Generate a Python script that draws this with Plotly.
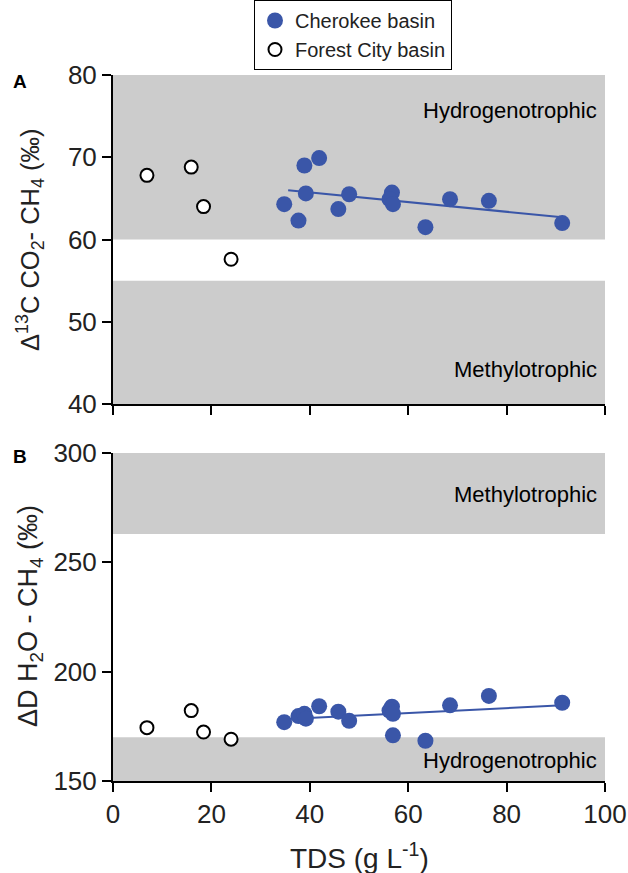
import plotly.graph_objects as go

# ---------------- data ----------------
# Panel A: Δ13C CO2 - CH4 (‰)
cherokee_tds_a = [34.8, 37.7, 38.9, 39.2, 41.9, 45.8, 48.0, 56.7, 56.2, 56.9, 63.5, 68.5, 76.4, 91.3]
cherokee_d13c = [64.3, 62.3, 69.0, 65.6, 69.9, 63.7, 65.5, 65.7, 64.9, 64.3, 61.5, 64.9, 64.7, 62.0]
forest_tds = [6.9, 15.9, 18.4, 24.0]
forest_d13c = [67.8, 68.8, 64.0, 57.6]
trend_a_tds = [35.6, 91.3]
trend_a_val = [66.0, 62.7]

# Panel B: ΔD H2O - CH4 (‰)
cherokee_tds_b = [34.8, 37.7, 38.9, 39.2, 41.9, 45.8, 48.0, 56.7, 56.2, 56.9, 56.9, 63.5, 68.5, 76.4, 91.3]
cherokee_dD = [176.9, 179.7, 180.7, 178.5, 184.2, 181.7, 177.5, 184.0, 182.2, 180.7, 170.9, 168.4, 184.6, 188.9, 185.8]
forest_dD = [174.4, 182.2, 172.4, 169.1]
trend_b_tds = [35.6, 91.3]
trend_b_val = [178.3, 184.6]

# Zones
zone_a = {"Hydrogenotrophic": (60, 80), "Methylotrophic": (40, 55)}
zone_b = {"Methylotrophic": (263, 300), "Hydrogenotrophic": (150, 170)}

x_ticks = [0, 20, 40, 60, 80, 100]
ya_ticks = [40, 50, 60, 70, 80]
yb_ticks = [150, 200, 250, 300]

BLUE = "#3A56A8"
BAND = "#cccccc"
FONT = "Liberation Sans, Arial, sans-serif"
TXT = "#222222"

W, H = 628, 873
L, R, T, B = 113, W - 605, 75, H - 781
PW, PH = W - L - R, H - T - B


def px_x(p):
    return (p - L) / PW


def px_y(p):
    return 1 - (p - T) / PH


fig = go.Figure()

# trend lines
fig.add_trace(go.Scatter(x=trend_a_tds, y=trend_a_val, mode="lines",
                         line=dict(color=BLUE, width=2), showlegend=False,
                         xaxis="x", yaxis="y"))
fig.add_trace(go.Scatter(x=trend_b_tds, y=trend_b_val, mode="lines",
                         line=dict(color=BLUE, width=2), showlegend=False,
                         xaxis="x2", yaxis="y2"))

filled = dict(color=BLUE, size=16, line=dict(width=0))
opened = dict(color="white", size=13, line=dict(color="black", width=2))

fig.add_trace(go.Scatter(x=cherokee_tds_a, y=cherokee_d13c, mode="markers",
                         marker=filled, name="Cherokee basin", xaxis="x", yaxis="y"))
fig.add_trace(go.Scatter(x=forest_tds, y=forest_d13c, mode="markers",
                         marker=opened, name="Forest City basin", xaxis="x", yaxis="y"))
fig.add_trace(go.Scatter(x=cherokee_tds_b, y=cherokee_dD, mode="markers",
                         marker=filled, name="Cherokee basin", showlegend=False,
                         xaxis="x2", yaxis="y2"))
fig.add_trace(go.Scatter(x=forest_tds, y=forest_dD, mode="markers",
                         marker=opened, name="Forest City basin", showlegend=False,
                         xaxis="x2", yaxis="y2"))

# bands + labels
for name, (y0, y1) in zone_a.items():
    fig.add_shape(type="rect", xref="x", yref="y", x0=x_ticks[0], x1=x_ticks[-1],
                  y0=y0, y1=y1, fillcolor=BAND, line=dict(width=0), layer="below")
label_pos_a = {"Hydrogenotrophic": 75.7, "Methylotrophic": 44.2}
for name, yv in label_pos_a.items():
    fig.add_annotation(x=98.8, y=yv, xref="x", yref="y", text=name, showarrow=False,
                       xanchor="right", yanchor="middle",
                       font=dict(size=22, color="black", family=FONT))

for name, (y0, y1) in zone_b.items():
    fig.add_shape(type="rect", xref="x2", yref="y2", x0=x_ticks[0], x1=x_ticks[-1],
                  y0=y0, y1=y1, fillcolor=BAND, line=dict(width=0), layer="below")
label_pos_b = {"Methylotrophic": 281, "Hydrogenotrophic": 159.5}
for name, yv in label_pos_b.items():
    fig.add_annotation(x=98.8, y=yv, xref="x2", yref="y2", text=name, showarrow=False,
                       xanchor="right", yanchor="middle",
                       font=dict(size=22, color="black", family=FONT))

# panel letters
fig.add_annotation(x=px_x(11), y=px_y(81), xref="paper", yref="paper", text="<b>A</b>",
                   showarrow=False, xanchor="left", yanchor="middle",
                   font=dict(size=19, color="black", family=FONT))
fig.add_annotation(x=px_x(11), y=px_y(456), xref="paper", yref="paper", text="<b>B</b>",
                   showarrow=False, xanchor="left", yanchor="middle",
                   font=dict(size=19, color="black", family=FONT))

# axis titles
fig.add_annotation(x=px_x(30), y=px_y(240), xref="paper", yref="paper",
                   text="Δ<sup>13</sup>C CO<sub>2</sub>- CH<sub>4</sub> (‰)", textangle=-90,
                   showarrow=False, xanchor="center", yanchor="middle",
                   font=dict(size=25.5, color=TXT, family=FONT))
fig.add_annotation(x=px_x(30), y=px_y(616), xref="paper", yref="paper",
                   text="ΔD H<sub>2</sub>O - CH<sub>4</sub> (‰)", textangle=-90,
                   showarrow=False, xanchor="center", yanchor="middle",
                   font=dict(size=27, color=TXT, family=FONT))
fig.add_annotation(x=0.5, y=px_y(856), xref="paper", yref="paper",
                   text="TDS (g L<sup>-1</sup>)",
                   showarrow=False, xanchor="center", yanchor="middle",
                   font=dict(size=28, color=TXT, family=FONT))

axis_common = dict(showline=True, linecolor="black", linewidth=2, ticks="outside",
                   ticklen=9, tickwidth=2, tickcolor="black", showgrid=False,
                   zeroline=False, automargin=False,
                   tickfont=dict(size=26, color=TXT, family=FONT))

fig.update_layout(
    width=W, height=H,
    margin=dict(l=L, r=R, t=T, b=B, autoexpand=False),
    plot_bgcolor="white", paper_bgcolor="white",
    font=dict(family=FONT, color=TXT),
    xaxis=dict(domain=[0, 1], anchor="y", range=[0, 100], tickvals=x_ticks,
               showticklabels=False, **axis_common),
    yaxis=dict(domain=[px_y(404), 1], anchor="x", range=[40, 80], tickvals=ya_ticks,
               **axis_common),
    xaxis2=dict(domain=[0, 1], anchor="y2", range=[0, 100], tickvals=x_ticks,
                **axis_common),
    yaxis2=dict(domain=[0, px_y(453)], anchor="x2", range=[150, 300], tickvals=yb_ticks,
                **axis_common),
    legend=dict(x=px_x(254), y=px_y(0), xanchor="left", yanchor="top",
                bordercolor="black", borderwidth=1, bgcolor="white",
                font=dict(size=20, color=TXT, family=FONT), tracegroupgap=0,
                itemsizing="trace"),
    showlegend=True,
)

# remove the default page margin so the figure fills the window exactly
fig.write_html("out.html", config={"displayModeBar": False},
               post_script="document.body.style.margin='0';")
